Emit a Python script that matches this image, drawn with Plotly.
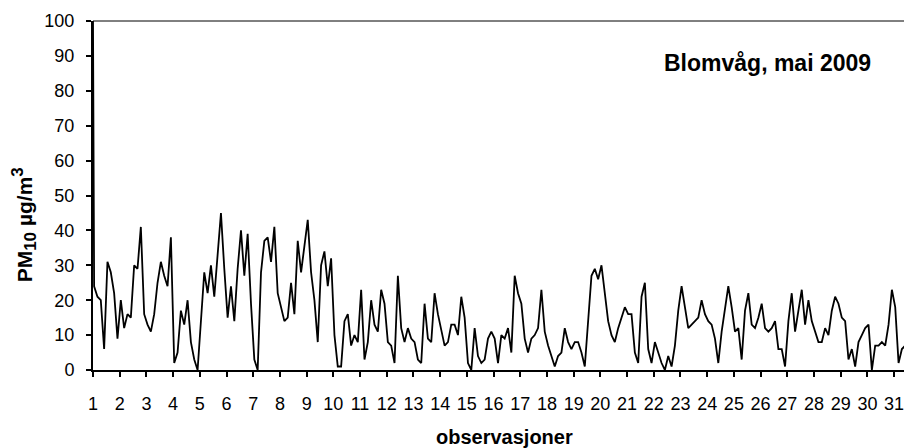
import plotly.graph_objects as go

# PM10 readings (µg/m3), sampled every 3 hours (hours 1,4,...,22 of each day)
start_value = 100  # hour 0 of day 1
week1 = [
    24, 21, 20, 6, 31, 28, 22, 9,      # 1
    20, 12, 16, 15, 30, 29, 41, 16,    # 2
    13, 11, 16, 25, 31, 27, 24, 38,    # 3
    2, 5, 17, 13, 20, 8, 3, 0,         # 4
    15, 28, 22, 30, 21, 32, 45, 29,    # 5
    15, 24, 14, 29, 40, 27, 39, 19,    # 6
    3, 0, 28, 37, 38, 31, 41, 22,      # 7
]
week2 = [
    18, 14, 15, 25, 16, 37, 28, 36,    # 8
    43, 28, 20, 8, 30, 34, 24, 32,     # 9
    10, 1, 1, 14, 16, 7, 10, 8,        # 10
    23, 3, 8, 20, 13, 11, 23, 19,      # 11
    8, 7, 2, 27, 12, 8, 12, 9,         # 12
    8, 3, 2, 19, 9, 8, 22, 16,         # 13
    11, 7, 8, 13, 13, 10, 21, 15,      # 14
]
week3 = [
    2, 0, 12, 4, 2, 3, 9, 11,          # 15
    9, 2, 10, 9, 12, 5, 27, 22,        # 16
    19, 9, 5, 9, 10, 12, 23, 11,       # 17
    7, 4, 1, 4, 5, 12, 8, 6,           # 18
    8, 8, 5, 1, 13, 27, 29, 26,        # 19
    30, 21, 14, 10, 8, 12, 15, 18,     # 20
    16, 16, 5, 2, 21, 25, 6, 2,        # 21
]
week4 = [
    8, 5, 2, 0, 4, 1, 7, 17,           # 22
    24, 18, 12, 13, 14, 15, 20, 16,    # 23
    14, 13, 9, 2, 11, 18, 24, 18,      # 24
    11, 12, 3, 17, 22, 13, 12, 15,     # 25
    19, 12, 11, 12, 14, 6, 6, 1,       # 26
    14, 22, 11, 17, 23, 13, 20, 14,    # 27
    11, 8, 8, 12, 10, 17, 21, 19,      # 28
]
week5 = [
    15, 14, 3, 6, 1, 8, 10, 12,        # 29
    13, 0, 7, 7, 8, 7, 13, 23,         # 30
    18, 2, 6, 7, 7, 12,                # 31
]
day_ticks = list(range(1, 32))
tick_labels = [str(d) for d in day_ticks]

values = [start_value] + week1 + week2 + week3 + week4 + week5
hours = [0] + [1 + 3 * i for i in range(len(values) - 1)]
x = [1 + h / 24 for h in hours]

FONT = "Liberation Sans, Arial, sans-serif"

fig = go.Figure()
fig.add_trace(go.Scatter(x=x, y=values, mode="lines",
                         line=dict(color="black", width=1.8),
                         showlegend=False, hoverinfo="skip"))

# page body has an 8px default margin, so the figure is 8px smaller
fig.update_layout(
    width=904, height=440,
    margin=dict(l=85, r=0, t=13, b=78),
    paper_bgcolor="white", plot_bgcolor="white",
    font=dict(family=FONT, size=18, color="black"),
    xaxis=dict(range=[1, 31.67], tickvals=day_ticks, ticktext=tick_labels,
               ticks="outside", ticklen=5, tickwidth=1.5, tickcolor="black",
               showline=True, linecolor="black", linewidth=2,
               showgrid=False, zeroline=False, ticklabelstandoff=11,
               tickfont=dict(size=18)),
    yaxis=dict(range=[0, 100], tick0=0, dtick=10,
               ticks="outside", ticklen=5, tickwidth=1.5, tickcolor="black",
               showline=True, linecolor="black", linewidth=2,
               showgrid=False, zeroline=False, ticklabelstandoff=8,
               tickfont=dict(size=18)),
    shapes=[dict(type="line", xref="paper", yref="paper", x0=0, x1=1, y0=1, y1=1,
                 line=dict(color="black", width=1))],
    annotations=[
        dict(text="<b>Blomvåg, mai 2009</b>", xref="paper", yref="paper",
             x=0.824, y=0.879, xanchor="center", yanchor="middle",
             showarrow=False, font=dict(size=23, family=FONT)),
        dict(text="<b>observasjoner</b>", xref="paper", yref="paper",
             x=0.502, y=-0.192, xanchor="center", yanchor="middle",
             showarrow=False, font=dict(size=20, family=FONT)),
        dict(text="<b>PM<sub><span style=\"font-size:17px\">10</span></sub> µg/m<sup><span style=\"font-size:17px\">3</span></sup></b>",
             xref="paper", yref="paper",
             x=-0.084, y=0.415, xanchor="center", yanchor="middle", textangle=-90,
             showarrow=False, font=dict(size=21, family=FONT)),
    ],
)

fig.write_html("out.html")
